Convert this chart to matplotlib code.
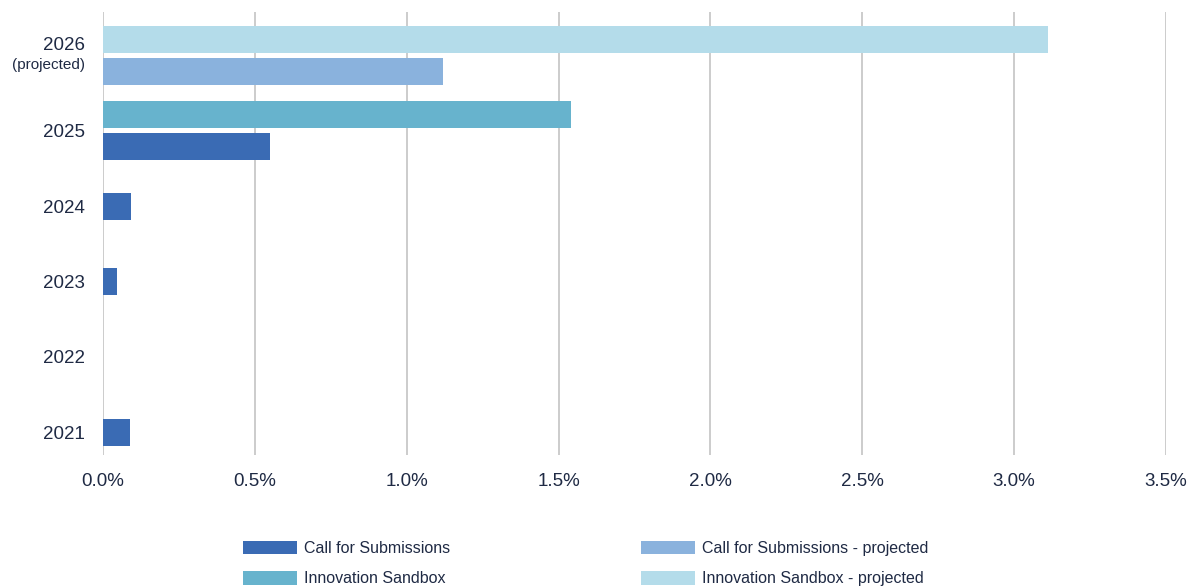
import numpy as np
import matplotlib.pyplot as plt
import matplotlib.transforms as mtrans
from matplotlib.ticker import FuncFormatter

plt.rcParams['font.family'] = ['Liberation Sans', 'DejaVu Sans']

# data (share, in %)
years = ['2021', '2022', '2023', '2024', '2025', '2026']
call_subm = [0.09, 0.0, 0.047, 0.092, 0.55, 0.0]
call_subm_proj = [0.0, 0.0, 0.0, 0.0, 0.0, 1.12]
sandbox = [0.0, 0.0, 0.0, 0.0, 1.54, 0.0]
sandbox_proj = [0.0, 0.0, 0.0, 0.0, 0.0, 3.11]
xticks = [0.0, 0.5, 1.0, 1.5, 2.0, 2.5, 3.0, 3.5]

# series drawn top to bottom inside a category
series = [
    ('Innovation Sandbox - projected', sandbox_proj, '#b4dcea'),
    ('Innovation Sandbox', sandbox, '#67b3cd'),
    ('Call for Submissions - projected', call_subm_proj, '#8ab2dd'),
    ('Call for Submissions', call_subm, '#3a6bb4'),
]

txt = '#1f2a44'
bar_h = 0.358
step = 0.425

fig = plt.figure(figsize=(11.92, 5.86), dpi=100)
ax = fig.add_axes([103 / 1192, 1 - 455 / 586, (1166 - 103) / 1192, (455 - 12) / 586])

y = np.arange(len(years))
handles = {}
for i in range(len(years)):
    present = [(n, v[i], c) for n, v, c in series if v[i] > 0]
    k = len(present)
    for j, (n, val, c) in enumerate(present):
        pos = y[i] + (k - 1) / 2 * step - j * step
        handles[n] = ax.barh(pos, val, height=bar_h, color=c, label=n)

ax.set_xlim(0, 3.5)
ax.set_ylim(-0.305, 5.577)
ax.set_xticks(xticks)
ax.xaxis.set_major_formatter(FuncFormatter(lambda v, p: f'{v:.1f}%'))
ax.set_yticks(y[:-1])
ax.set_yticklabels(years[:-1])
ax.tick_params(axis='both', length=0, labelcolor=txt, labelsize=13.5)
ax.tick_params(axis='y', pad=13)
ax.tick_params(axis='x', pad=13)

# two-line label for the projected year
off = ax.get_yaxis_transform() + mtrans.ScaledTranslation(-18 / 100, 0, fig.dpi_scale_trans)
ax.text(0, 5.02, years[-1], transform=off, ha='right', va='bottom', fontsize=13.5, color=txt)
ax.text(0, 4.97, '(projected)', transform=off, ha='right', va='top', fontsize=11, color=txt)

ax.grid(axis='x', color='#c8c8c8', linewidth=1.3)
ax.set_axisbelow(True)
for s in ax.spines.values():
    s.set_visible(False)

order = ['Call for Submissions', 'Innovation Sandbox',
         'Call for Submissions - projected', 'Innovation Sandbox - projected']
fig.legend([handles[n] for n in order], order, ncol=2, frameon=False,
           loc='upper left', bbox_to_anchor=(243 / 1192, 1 - 541 / 586),
           fontsize=11.5, handlelength=3.4, handleheight=0.9, handletextpad=0.45,
           columnspacing=11.9, labelspacing=0.95, borderpad=0, borderaxespad=0,
           labelcolor=txt)

fig.savefig('out.png', dpi=100)
